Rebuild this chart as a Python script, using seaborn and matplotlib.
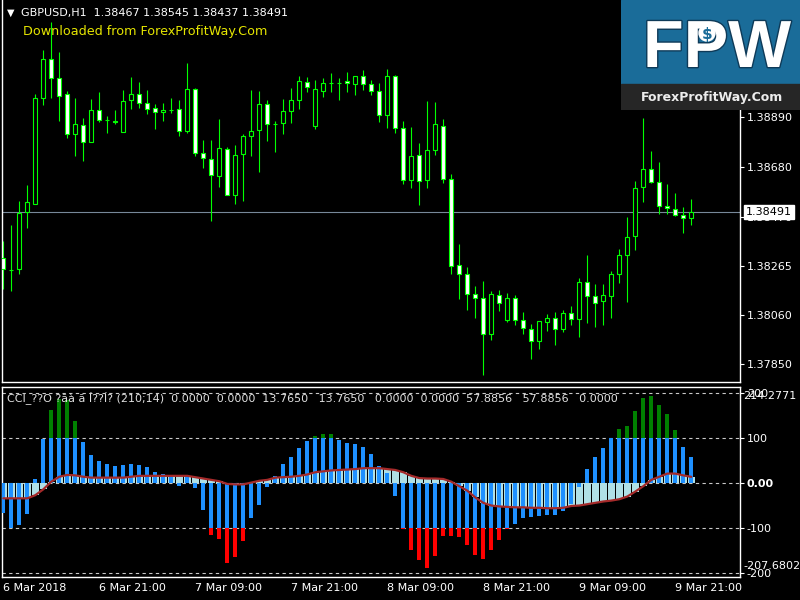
import numpy as np
import matplotlib
matplotlib.use("Agg")
import matplotlib.pyplot as plt
import seaborn as sns
from matplotlib.patches import Rectangle, Circle
from matplotlib import patheffects as pe

# GBPUSD H1, 6-9 Mar 2018
opens = [1.38299, 1.38249, 1.38250, 1.38490, 1.38526, 1.38970, 1.39134, 1.39054, 1.38987, 1.38819,
         1.38856, 1.38785, 1.38920, 1.38880, 1.38876, 1.38827, 1.38964, 1.38987, 1.38949, 1.38928,
         1.38911, 1.38921, 1.38924, 1.38831, 1.39009, 1.38738, 1.38713, 1.38642, 1.38755, 1.38562,
         1.38734, 1.38810, 1.38835, 1.38945, 1.38863, 1.38865, 1.38915, 1.38962, 1.39038, 1.38852,
         1.39002, 1.39035, 1.39035, 1.39042, 1.39029, 1.39063, 1.39029, 1.39000, 1.38898, 1.39063,
         1.38844, 1.38625, 1.38730, 1.38625, 1.38751, 1.38852, 1.38629, 1.38267, 1.38229, 1.38145,
         1.38128, 1.37977, 1.38141, 1.38035, 1.38128, 1.38035, 1.37998, 1.37947, 1.38027, 1.38044,
         1.37998, 1.38065, 1.38040, 1.38195, 1.38137, 1.38115, 1.38137, 1.38229, 1.38309, 1.38389,
         1.38595, 1.38671, 1.38617, 1.38515, 1.38503, 1.38477, 1.38467]
highs = [1.38369, 1.38437, 1.38538, 1.38605, 1.38988, 1.39173, 1.39290, 1.39165, 1.39001, 1.38971,
         1.38887, 1.38967, 1.38997, 1.38896, 1.38920, 1.39004, 1.39060, 1.39039, 1.39005, 1.38945,
         1.38950, 1.38971, 1.38963, 1.39117, 1.39013, 1.38795, 1.38795, 1.38882, 1.38765, 1.38774,
         1.38821, 1.39005, 1.39001, 1.38963, 1.38875, 1.38967, 1.39013, 1.39064, 1.39060, 1.39047,
         1.39056, 1.39075, 1.39056, 1.39081, 1.39064, 1.39089, 1.39046, 1.39035, 1.39093, 1.39068,
         1.38875, 1.38849, 1.38782, 1.38959, 1.38955, 1.38883, 1.38651, 1.38357, 1.38260, 1.38180,
         1.38201, 1.38159, 1.38163, 1.38150, 1.38142, 1.38070, 1.38020, 1.38031, 1.38062, 1.38070,
         1.38079, 1.38096, 1.38214, 1.38310, 1.38188, 1.38188, 1.38243, 1.38336, 1.38470, 1.38622,
         1.38886, 1.38748, 1.38702, 1.38609, 1.38571, 1.38511, 1.38545]
lows = [1.38166, 1.38160, 1.38232, 1.38425, 1.38526, 1.38942, 1.38973, 1.38875, 1.38804, 1.38728,
        1.38707, 1.38785, 1.38872, 1.38825, 1.38863, 1.38827, 1.38926, 1.38931, 1.38904, 1.38842,
        1.38875, 1.38909, 1.38813, 1.38825, 1.38728, 1.38678, 1.38455, 1.38598, 1.38562, 1.38526,
        1.38539, 1.38728, 1.38661, 1.38792, 1.38745, 1.38821, 1.38867, 1.38926, 1.38998, 1.38842,
        1.38977, 1.38998, 1.38964, 1.38998, 1.38984, 1.39005, 1.38984, 1.38872, 1.38846, 1.38825,
        1.38611, 1.38594, 1.38522, 1.38594, 1.38730, 1.38615, 1.38232, 1.38126, 1.38080, 1.38046,
        1.37806, 1.37954, 1.38076, 1.38030, 1.38017, 1.37979, 1.37874, 1.37916, 1.37992, 1.37933,
        1.37987, 1.38017, 1.37966, 1.38025, 1.38009, 1.38017, 1.38046, 1.38194, 1.38114, 1.38333,
        1.38535, 1.38612, 1.38484, 1.38484, 1.38476, 1.38404, 1.38437]
closes = [1.38252, 1.38249, 1.38486, 1.38532, 1.38970, 1.39134, 1.39054, 1.38978, 1.38819, 1.38861,
          1.38785, 1.38922, 1.38877, 1.38880, 1.38869, 1.38957, 1.38987, 1.38949, 1.38926, 1.38911,
          1.38920, 1.38921, 1.38831, 1.39009, 1.38738, 1.38718, 1.38646, 1.38760, 1.38562, 1.38730,
          1.38810, 1.38831, 1.38945, 1.38861, 1.38863, 1.38915, 1.38962, 1.39042, 1.39016, 1.39008,
          1.39033, 1.39035, 1.39035, 1.39033, 1.39063, 1.39029, 1.39000, 1.38898, 1.39063, 1.38844,
          1.38625, 1.38726, 1.38621, 1.38751, 1.38861, 1.38629, 1.38263, 1.38229, 1.38145, 1.38128,
          1.37977, 1.38145, 1.38107, 1.38128, 1.38035, 1.38002, 1.37947, 1.38031, 1.38044, 1.37998,
          1.38065, 1.38040, 1.38195, 1.38137, 1.38107, 1.38141, 1.38229, 1.38309, 1.38385, 1.38591,
          1.38671, 1.38617, 1.38515, 1.38507, 1.38477, 1.38465, 1.38491]

cci = [-67, -100, -93, -68, 9, 98, 162, 187, 184, 138,
       91, 62, 49, 42, 38, 40, 42, 40, 36, 24,
       20, 16, -7, 18, -11, -60, -116, -124, -178, -164,
       -129, -78, -49, -9, 16, 42, 58, 78, 93, 104,
       109, 109, 96, 89, 87, 80, 64, 38, 22, -29,
       -103, -149, -171, -189, -162, -118, -118, -120, -138, -160,
       -169, -149, -127, -102, -91, -78, -76, -73, -71, -71,
       -62, -47, -9, 31, 58, 78, 100, 120, 127, 160,
       189, 193, 173, 153, 118, 80, 57.8856]
cci_signal = [-34, -34, -34, -34, -27, -14, 3, 14, 18, 17,
              14, 12, 12, 12, 12, 12, 14, 16, 16, 16,
              16, 16, 16, 16, 13, 10, 7, 4, -2, -3,
              -3, 1, 5, 7, 12, 13, 14, 16, 19, 24,
              26, 28, 29, 30, 31, 33, 33, 33, 31, 29,
              24, 16, 11, 10, 10, 9, 3, -7, -17, -32,
              -44, -50, -52, -53, -54, -54, -55, -55, -56, -56,
              -55, -51, -50, -47, -44, -41, -39, -36, -30, -19,
              -7, 7, 14, 21, 21, 17, 13.765]

time_labels = ["6 Mar 2018", "6 Mar 21:00", "7 Mar 09:00", "7 Mar 21:00",
               "8 Mar 09:00", "8 Mar 21:00", "9 Mar 09:00", "9 Mar 21:00"]
time_label_bars = [0, 12, 24, 36, 48, 60, 72, 84]
price_ticks = [1.37850, 1.38060, 1.38265, 1.38470, 1.38680, 1.38890]
cci_levels = [-200, -100, 0, 100, 200]
cci_max, cci_min = 214.2771, -207.6802

LIME = "#00ff00"

sns.set_theme(style="dark", rc={
    "figure.facecolor": "black", "axes.facecolor": "black", "axes.edgecolor": "white",
    "text.color": "white", "xtick.color": "white", "ytick.color": "white",
    "axes.grid": False, "axes.linewidth": 1.0})
plt.rcParams["font.family"] = ["DejaVu Sans"]
plt.rcParams["font.size"] = 8

W, H = 800, 600
fig = plt.figure(figsize=(8, 6), dpi=100)


def px_axes(left, top, right, bottom):
    return fig.add_axes([left / W, 1 - bottom / H, (right - left) / W, (bottom - top) / H])


ax = px_axes(2, 0, 740, 382)
ind = px_axes(2, 386.6, 740, 576.5)

o = np.array(opens)
c = np.array(closes)
x = np.arange(len(c))
xlim = (-0.16, -0.16 + 738 / 8)

# price chart
ax.axhline(c[-1], color="#778899", lw=0.8, zorder=1)
ax.vlines(x, lows, highs, color=LIME, lw=0.8, zorder=2)
fill = np.where(c > o, "black", "white")
ax.bar(x, c - o, bottom=o, width=0.5, color=fill, edgecolor=LIME, linewidth=0.8, zorder=3)
ax.set_xlim(*xlim)
ax.set_ylim(1.37776, 1.39384)
ax.set_xticks([])
ax.yaxis.tick_right()
ax.set_yticks(price_ticks)
ax.set_yticklabels([f"{p:.5f}" for p in price_ticks])
ax.tick_params(axis="y", length=3, width=0.8, pad=2, labelsize=8, colors="white")
ax.spines["top"].set_visible(False)
for s in ["left", "right", "bottom"]:
    ax.spines[s].set_color("white")
ax.annotate(f"{closes[-1]:.5f}", xy=(1, closes[-1]), xycoords=ax.get_yaxis_transform(),
            xytext=(4.5, 0), textcoords="offset points", va="center", ha="left",
            color="black", fontsize=8, annotation_clip=False, zorder=6,
            bbox=dict(boxstyle="square,pad=0.2", fc="white", ec="white"))

fig.text(7 / W, 1 - 13 / H, "▼", color="white", fontsize=7, va="center")
fig.text(21 / W, 1 - 13 / H,
         f"GBPUSD,H1  {opens[-1]:.5f} {highs[-1]:.5f} {lows[-1]:.5f} {closes[-1]:.5f}",
         color="white", fontsize=8, va="center")
fig.text(23 / W, 1 - 32 / H, "Downloaded from ForexProfitWay.Com", color="#e6e600",
         fontsize=9.2, va="center")

# CCI window
sig = np.array(cci_signal)
v = np.array(cci)
for lvl in cci_levels:
    ind.axhline(lvl, color="#c8c8c8", lw=0.8, ls=(0, (3, 3)), zorder=1)
ind.bar(x, sig, width=0.875, color="#b0e0e6", linewidth=0, zorder=2)
ind.bar(x, np.clip(v, -100, 100), width=0.45, color="#1e90ff", linewidth=0, zorder=3)
ind.bar(x, np.where(v > 100, v - 100, 0), bottom=100, width=0.45, color="#008000",
        linewidth=0, zorder=3)
ind.bar(x, np.where(v < -100, v + 100, 0), bottom=-100, width=0.45, color="#ff0000",
        linewidth=0, zorder=3)
sns.lineplot(x=x, y=sig, ax=ind, color="#a52a2a", lw=1.6, zorder=4)
ind.set_xlim(*xlim)
ind.set_ylim(cci_min, cci_max)
ind.yaxis.tick_right()
ind.set_yticks([-200, -100, 0, 100, 200])
ind.set_yticklabels(["-200", "-100", "0.00", "100", "200"])
ind.tick_params(axis="y", length=3, width=0.8, pad=2, labelsize=8, colors="white")
ind.get_yticklabels()[2].set_fontweight("bold")
ind.set_xticks(time_label_bars)
ind.set_xticklabels(time_labels, ha="left")
ind.tick_params(axis="x", length=4, width=0.8, pad=1, labelsize=8, colors="white")
for s in ind.spines.values():
    s.set_color("white")
ind.set_xlabel("")
ind.set_ylabel("")
ind.annotate(f"{cci_max:.4f}", xy=(1, 1), xycoords="axes fraction", xytext=(2.5, -3),
             textcoords="offset points", ha="left", va="top", fontsize=8, color="white",
             annotation_clip=False)
ind.annotate(f"{cci_min:.4f}", xy=(1, 0), xycoords="axes fraction", xytext=(2.5, 4),
             textcoords="offset points", ha="left", va="bottom", fontsize=8, color="white",
             annotation_clip=False)
fig.text(7 / W, 1 - 398 / H,
         f"CCI_??O ?ãà ã Í??Í? (210;14)  0.0000  0.0000  {cci_signal[-1]:.4f}   "
         f"{cci_signal[-1]:.4f}   0.0000  0.0000  {cci[-1]:.4f}   {cci[-1]:.4f}   0.0000",
         color="#e0e0e0", fontsize=8, va="center")

# FPW logo in the corner
logo = fig.add_axes([621 / W, 1 - 110 / H, 179 / W, 110 / H])
logo.set_xlim(0, 179)
logo.set_ylim(110, 0)
logo.axis("off")
logo.add_patch(Rectangle((0, 0), 179, 84, color="#1a6c99"))
logo.add_patch(Rectangle((0, 84), 179, 26, color="#262626"))
logo.text(96, 67, "FPW", ha="center", va="baseline", fontsize=48, fontweight="bold",
          family="Liberation Sans", color="white",
          path_effects=[pe.withStroke(linewidth=2, foreground="#0e3a58")])
logo.add_patch(Circle((86, 33), 8, color="white", zorder=3))
logo.text(86, 34, "$", ha="center", va="center", fontsize=11, fontweight="bold",
          color="#1a6c99", zorder=4)
logo.text(91, 97, "ForexProfitWay.Com", ha="center", va="center", fontsize=9,
          fontweight="bold", color="#ececec")

fig.savefig("out.png", dpi=100, facecolor="black")
